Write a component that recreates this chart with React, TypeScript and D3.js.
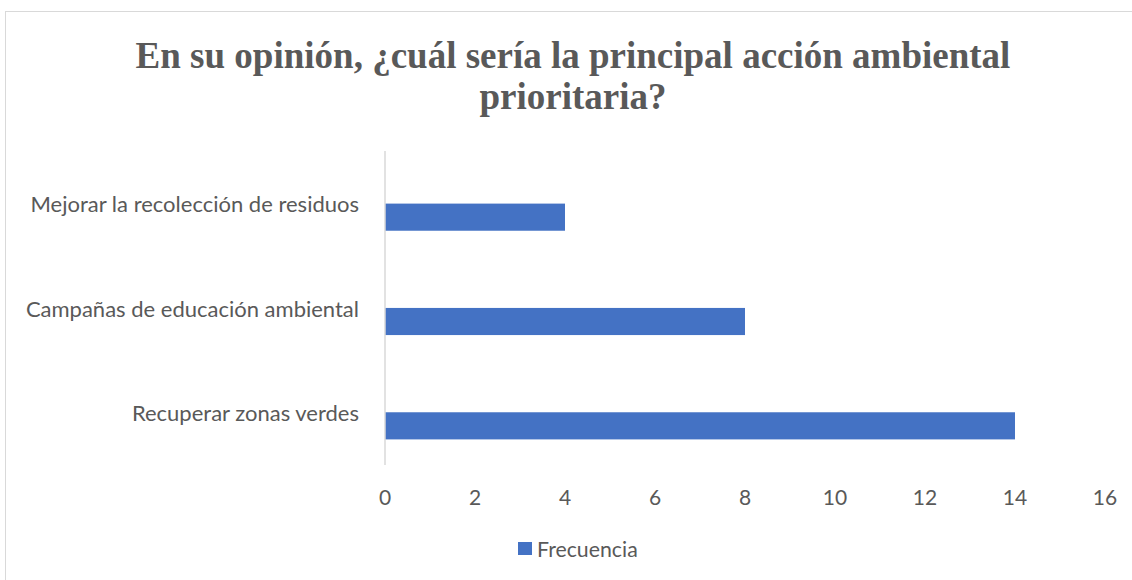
import React, { useEffect, useRef } from 'react'
import * as d3 from 'd3'

const categories = [
  'Mejorar la recolección de residuos',
  'Campañas de educación ambiental',
  'Recuperar zonas verdes',
]
const frecuencia = [4, 8, 14]
const xTicks = [0, 2, 4, 6, 8, 10, 12, 14, 16]
const titleLines = ['En su opinión, ¿cuál sería la principal acción ambiental', 'prioritaria?']
const seriesName = 'Frecuencia'

const width = 1132
const height = 580
const barColor = '#4472c4'
const textColor = '#595959'
const labelFont = 'Lato, "Open Sans", sans-serif'

function App() {
  const svgRef = useRef<SVGSVGElement>(null)

  useEffect(() => {
    const svg = d3.select(svgRef.current)
    svg.selectAll('*').remove()

    const x = d3.scaleLinear().domain([0, 16]).range([385, 1105])
    const y = d3.scaleBand().domain(categories).range([165, 478]).paddingInner(0.74).paddingOuter(0.37)

    // chart frame
    svg.append('rect')
      .attr('x', 5.5).attr('y', 11.5)
      .attr('width', width).attr('height', height)
      .attr('fill', 'white').attr('stroke', '#d9d9d9')

    // title
    svg.append('g')
      .selectAll('text')
      .data(titleLines)
      .join('text')
      .attr('x', 573)
      .attr('y', (d, i) => 68 + i * 41)
      .attr('text-anchor', 'middle')
      .attr('font-family', '"Liberation Serif", "Times New Roman", serif')
      .attr('font-weight', 'bold')
      .attr('font-size', 37)
      .attr('fill', textColor)
      .text(d => d)

    // bars
    svg.append('g')
      .selectAll('rect')
      .data(categories)
      .join('rect')
      .attr('x', x(0))
      .attr('y', d => y(d)!)
      .attr('width', (d, i) => x(frecuencia[i]) - x(0))
      .attr('height', y.bandwidth())
      .attr('fill', barColor)

    // vertical axis line
    svg.append('line')
      .attr('x1', x(0)).attr('x2', x(0))
      .attr('y1', 151).attr('y2', 465)
      .attr('stroke', '#d9d9d9').attr('stroke-width', 1.5)

    // category labels
    svg.append('g')
      .selectAll('text')
      .data(categories)
      .join('text')
      .attr('x', 359)
      .attr('y', d => y(d)! + y.bandwidth() / 2 - 5)
      .attr('text-anchor', 'end')
      .attr('font-family', labelFont)
      .attr('font-size', 22)
      .attr('fill', textColor)
      .text(d => d)

    // x tick labels
    svg.append('g')
      .selectAll('text')
      .data(xTicks)
      .join('text')
      .attr('x', d => x(d))
      .attr('y', 505)
      .attr('text-anchor', 'middle')
      .attr('font-family', labelFont)
      .attr('font-size', 21)
      .attr('fill', textColor)
      .text(d => d)

    // legend
    const legend = svg.append('g')
    legend.append('rect')
      .attr('x', 518).attr('y', 542)
      .attr('width', 14).attr('height', 13)
      .attr('fill', barColor)
    legend.append('text')
      .attr('x', 537).attr('y', 557)
      .attr('font-family', labelFont)
      .attr('font-size', 21.3)
      .attr('fill', textColor)
      .text(seriesName)
  }, [])

  return (
    <svg
      ref={svgRef}
      width={width}
      height={height}
      style={{ position: 'absolute', left: 0, top: 0 }}
    ></svg>
  )
}

export default App
